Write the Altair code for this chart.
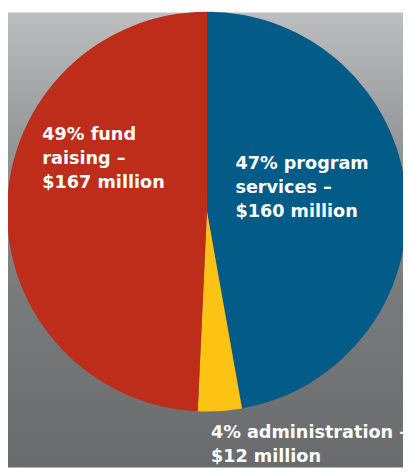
import altair as alt
import pandas as pd

categories = ["program services", "administration", "fund raising"]
amounts = [160, 12, 167]
percents = [47, 4, 49]
colors = ["#035B88", "#FCC314", "#BE2D1A"]
labels = [
    ["47% program", "services –", "$160 million"],
    ["4% administration –", "$12 million"],
    ["49% fund", "raising –", "$167 million"],
]

W, H = 403, 464
CX, CY, R = 203, 203, 204

df = pd.DataFrame({"category": categories, "amount": amounts,
                   "percent": percents, "idx": list(range(len(categories)))})

bg = alt.Chart(pd.DataFrame({"a": [0]})).mark_rect(
    color=alt.Gradient(
        gradient="linear",
        stops=[alt.GradientStop(color="#bcbebf", offset=0),
               alt.GradientStop(color="#929495", offset=0.3),
               alt.GradientStop(color="#7a7b7d", offset=0.6),
               alt.GradientStop(color="#6a6b6d", offset=1)],
        x1=0, x2=0, y1=0, y2=1)
).encode(x=alt.value(0), x2=alt.value(W), y=alt.value(0), y2=alt.value(H))

shadows = []
for k in range(10):
    shadows.append(
        alt.Chart(pd.DataFrame({"a": [1]})).mark_arc(
            radius=R - 2 + k, color="#111111", opacity=0.1
        ).encode(theta=alt.Theta("a:Q"), x=alt.value(CX + 4), y=alt.value(CY + 6))
    )

pie = alt.Chart(df).mark_arc(radius=R, stroke=None).encode(
    theta=alt.Theta("amount:Q", stack=True),
    order=alt.Order("idx:Q"),
    color=alt.Color("category:N", scale=alt.Scale(domain=categories, range=colors),
                    legend=None),
    x=alt.value(CX), y=alt.value(CY),
)

pos = [(232, 160), (207, 434), (35, 130)]
texts = []
for lab, (tx, ty) in zip(labels, pos):
    texts.append(
        alt.Chart(pd.DataFrame({"t": [lab]})).mark_text(
            align="left", baseline="alphabetic", color="white",
            font="DejaVu Sans", fontWeight="bold", fontSize=18, lineHeight=24.5
        ).encode(text="t", x=alt.value(tx), y=alt.value(ty))
    )

chart = alt.layer(bg, *shadows, pie, *texts).properties(
    width=W, height=H, autosize=alt.AutoSizeParams(type="none"), padding=0
).configure_view(strokeWidth=0)

chart.save("out.html", embed_options={"renderer": "svg", "actions": False})
